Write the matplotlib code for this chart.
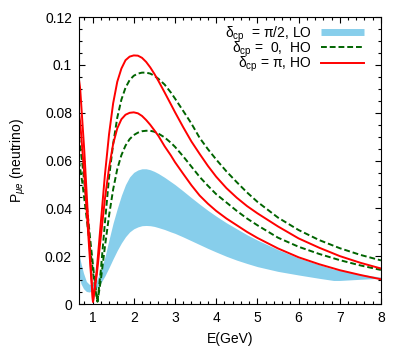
import numpy as np
import matplotlib
matplotlib.use('Agg')
import matplotlib.pyplot as plt
from matplotlib.lines import Line2D
from matplotlib.ticker import MultipleLocator, FormatStrFormatter

plt.rcParams['font.family'] = ['Liberation Sans', 'DejaVu Sans']
plt.rcParams['mathtext.fontset'] = 'custom'
plt.rcParams['mathtext.rm'] = 'Liberation Sans'
plt.rcParams['mathtext.it'] = 'Liberation Sans:italic'

# shared energy grid from the first peak region onwards
e_tail = [1.2, 1.3, 1.4, 1.5, 1.6, 1.7, 1.8, 1.9, 2.0, 2.1, 2.2, 2.3, 2.4, 2.5, 2.6, 2.75,
          2.9, 3.0, 3.2, 3.4, 3.6, 3.8, 4.0, 4.25, 4.5, 4.75, 5.0, 5.5, 6.0, 6.5, 7.0, 7.5, 8.0]

# delta_cp = pi, HO (red, two edges)
e_red = [0.67, 0.7, 0.8, 0.9, 0.95, 1.01, 1.1] + e_tail
p_red_hi = [0.094, 0.090, 0.064, 0.033, 0.018, 0.001, 0.014,
            0.034, 0.054, 0.071, 0.084, 0.093, 0.0985, 0.1020, 0.1035, 0.1040, 0.1039, 0.1030,
            0.1013, 0.0990, 0.0963, 0.0933, 0.0885, 0.0836, 0.0803, 0.0740, 0.0680, 0.0628,
            0.0578, 0.0533, 0.0485, 0.0445, 0.0410, 0.0380, 0.0325, 0.0275, 0.0236, 0.0201,
            0.0173, 0.0149]
p_red_lo = [0.080, 0.076, 0.054, 0.028, 0.015, 0.001, 0.012,
            0.028, 0.044, 0.057, 0.067, 0.0735, 0.0773, 0.0792, 0.0800, 0.0802, 0.0798, 0.0787,
            0.0770, 0.0750, 0.0727, 0.0703, 0.0660, 0.0622, 0.0594, 0.0545, 0.0497, 0.0454,
            0.0420, 0.0390, 0.0358, 0.0330, 0.0302, 0.0277, 0.0233, 0.0196, 0.0167, 0.0142,
            0.0122, 0.0104]

# delta_cp = 0, HO (green dashed, two edges)
e_grn = [0.67, 0.75, 0.85, 0.95, 1.05, 1.12] + e_tail
p_grn_hi = [0.070, 0.059, 0.043, 0.026, 0.010, 0.001,
            0.014, 0.034, 0.053, 0.067, 0.078, 0.0855, 0.0905, 0.0937, 0.0955, 0.0964, 0.0968,
            0.0968, 0.0964, 0.0955, 0.0942, 0.0918, 0.0885, 0.0860, 0.0808, 0.0755, 0.0695,
            0.0648, 0.0605, 0.0555, 0.0510, 0.0467, 0.0428, 0.0362, 0.0310, 0.0268, 0.0234,
            0.0206, 0.0183]
p_grn_lo = [0.060, 0.051, 0.037, 0.022, 0.008, 0.001,
            0.010, 0.024, 0.037, 0.048, 0.0565, 0.0623, 0.0663, 0.0690, 0.0707, 0.0717, 0.0723,
            0.0725, 0.0725, 0.0721, 0.0713, 0.0697, 0.0675, 0.0658, 0.0618, 0.0575, 0.0532,
            0.0495, 0.0460, 0.0425, 0.0390, 0.0358, 0.0330, 0.0278, 0.0240, 0.0210, 0.0184,
            0.0162, 0.0143]

# delta_cp = pi/2, LO (blue band)
e_band = [0.67, 0.72, 0.78, 0.85, 0.92, 1.0, 1.1] + e_tail[:-3] + [6.85, 7.0, 7.5, 8.0]
p_band_hi = [0.021, 0.017, 0.013, 0.0095, 0.0083, 0.0082, 0.010,
             0.014, 0.0197, 0.027, 0.034, 0.040, 0.0455, 0.050, 0.0532, 0.0551, 0.0561, 0.0566,
             0.0566, 0.0562, 0.0555, 0.0546, 0.0530, 0.0512, 0.0500, 0.0473, 0.0445, 0.0418,
             0.0392, 0.0368, 0.0340, 0.0315, 0.0290, 0.0268, 0.0228, 0.0193, 0.0165, 0.0146,
             0.0142, 0.0125, 0.0113]
p_band_lo = [0.012, 0.0085, 0.0065, 0.0053, 0.0051, 0.0055, 0.0067,
             0.0088, 0.0118, 0.0153, 0.0190, 0.0225, 0.0256, 0.0282, 0.0302, 0.0315, 0.0323,
             0.0328, 0.0329, 0.0328, 0.0325, 0.0320, 0.0312, 0.0302, 0.0296, 0.0281, 0.0265,
             0.0249, 0.0233, 0.0218, 0.0200, 0.0184, 0.0170, 0.0157, 0.0137, 0.0122, 0.0108,
             0.0099, 0.0099, 0.0104, 0.0108]

labels = ['\u03b4$_{\\rm cp}$  = \u03c0/2, LO',
          '\u03b4$_{\\rm cp}$ =  0,  HO',
          '\u03b4$_{\\rm cp}$ = \u03c0, HO']

blue = '#87ceeb'
red = '#ff0000'
green = '#006400'
dash = (0, (3, 1.5))

fig = plt.figure(figsize=(4.07, 3.5), dpi=100)
ax = fig.add_axes([0.194, 0.131, 0.742, 0.820])

ax.fill_between(e_band, p_band_lo, p_band_hi, color=blue, lw=0)
ax.plot(e_grn, p_grn_hi, color=green, lw=1.4, ls=dash)
ax.plot(e_grn, p_grn_lo, color=green, lw=1.4, ls=dash)
ax.plot(e_red, p_red_hi, color=red, lw=1.4)
ax.plot(e_red, p_red_lo, color=red, lw=1.4)

ax.set_xlim(0.67, 8)
ax.set_ylim(0, 0.12)
ax.xaxis.set_major_locator(MultipleLocator(1))
ax.xaxis.set_minor_locator(MultipleLocator(0.2))
ax.yaxis.set_major_locator(MultipleLocator(0.02))
ax.yaxis.set_minor_locator(MultipleLocator(0.005))
ax.yaxis.set_major_formatter(FormatStrFormatter('%g'))
ax.tick_params(which='both', direction='in', top=True, right=True, labelsize=10, pad=5)
ax.tick_params(which='major', length=4.5, width=0.8)
ax.tick_params(which='minor', length=2.5, width=0.8)
for s in ax.spines.values():
    s.set_linewidth(0.8)

ax.set_xlabel('E(GeV)', fontsize=10, labelpad=5)
ax.set_ylabel('P$_{\\mu e}$ (neutrino)', fontsize=10, labelpad=12)

handles = [Line2D([], [], color=blue, lw=5, solid_capstyle='butt'),
           Line2D([], [], color=green, lw=1.4, ls=dash),
           Line2D([], [], color=red, lw=1.4)]
ax.legend(handles, labels, loc='upper right', bbox_to_anchor=(0.945, 0.975),
          frameon=False, markerfirst=False, fontsize=10, handlelength=3.1,
          handletextpad=0.7, labelspacing=-0.3, borderpad=0, borderaxespad=0)

fig.savefig('out.png', dpi=100)
